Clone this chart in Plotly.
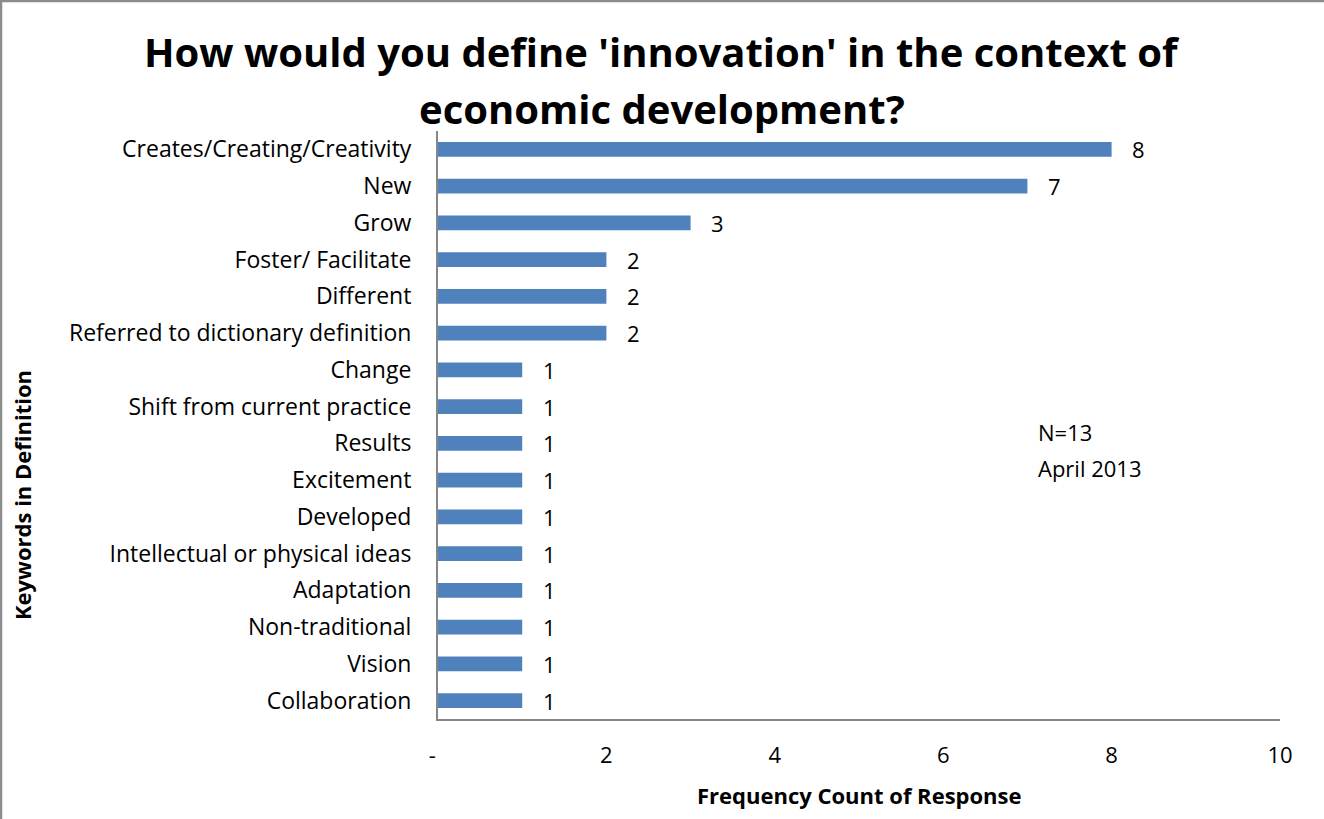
import plotly.graph_objects as go

# Keyword frequencies from survey responses (top to bottom)
keywords = [
    "Creates/Creating/Creativity",
    "New",
    "Grow",
    "Foster/ Facilitate",
    "Different",
    "Referred to dictionary definition",
    "Change",
    "Shift from current practice",
    "Results",
    "Excitement",
    "Developed",
    "Intellectual or physical ideas",
    "Adaptation",
    "Non-traditional",
    "Vision",
    "Collaboration",
]
counts = [8, 7, 3, 2, 2, 2, 1, 1, 1, 1, 1, 1, 1, 1, 1, 1]

x_tick_vals = [0, 2, 4, 6, 8, 10]
x_tick_text = ["-&nbsp;&nbsp;", "2", "4", "6", "8", "10"]

title_lines = ["How would you define 'innovation' in the context of",
               "economic development?"]
note_lines = ["N=13", "April 2013"]

W, H = 1324, 819
L, R, T, B = 438, 44, 131, 100
FONT = "Open Sans"
BAR = "#4F81BD"
AXIS = "#868686"
LABEL_SIZE = 23

fig = go.Figure()
fig.add_trace(go.Bar(
    x=counts,
    y=keywords,
    orientation="h",
    marker=dict(color=BAR, line=dict(width=0)),
    width=0.4,
    hoverinfo="x+y",
))

# value labels to the right of each bar
for k, v in zip(keywords, counts):
    fig.add_annotation(
        x=v, y=k, xref="x", yref="y",
        text=str(v), showarrow=False,
        xanchor="center", xshift=27,
        font=dict(family=FONT, size=LABEL_SIZE - 1, color="black"),
    )

pw, ph = W - L - R, H - T - B


def px_x(p):
    return (p - L) / pw


def px_y(p):
    return (H - B - p) / ph


# chart frame (left and top edges)
fig.add_shape(type="line", xref="paper", yref="paper",
              x0=px_x(1), x1=px_x(1), y0=px_y(0), y1=px_y(H),
              line=dict(color="#8C8C8C", width=2.5))
fig.add_shape(type="line", xref="paper", yref="paper",
              x0=px_x(0), x1=px_x(W), y0=px_y(1), y1=px_y(1),
              line=dict(color="#8C8C8C", width=2.5))

# title, two lines
for line, yc in zip(title_lines, [52, 108]):
    fig.add_annotation(
        x=px_x(W / 2), y=px_y(yc), xref="paper", yref="paper",
        text=f"<b>{line}</b>", showarrow=False,
        xanchor="center", yanchor="middle",
        font=dict(family=FONT, size=40, color="black"),
    )

# sample note
for line, yc in zip(note_lines, [432, 468]):
    fig.add_annotation(
        x=px_x(1036), y=px_y(yc), xref="paper", yref="paper",
        text=line, showarrow=False, align="left",
        xanchor="left", yanchor="middle",
        font=dict(family=FONT, size=LABEL_SIZE - 1, color="black"),
    )

# vertical axis title
fig.add_annotation(
    x=px_x(22), y=px_y(495), xref="paper", yref="paper",
    text="<b>Keywords in Definition</b>", showarrow=False, textangle=-90,
    xanchor="center", yanchor="middle",
    font=dict(family=FONT, size=22, color="black"),
)

# horizontal axis title
fig.add_annotation(
    x=0.5, y=px_y(795), xref="paper", yref="paper",
    text="<b>Frequency Count of Response</b>", showarrow=False,
    xanchor="center", yanchor="middle",
    font=dict(family=FONT, size=22, color="black"),
)

fig.update_layout(
    width=W, height=H,
    margin=dict(l=L, r=R, t=T, b=B, pad=0),
    paper_bgcolor="white", plot_bgcolor="white",
    showlegend=False,
    bargap=0.6,
    xaxis=dict(
        range=[0, 10], tickvals=x_tick_vals, ticktext=x_tick_text,
        showgrid=False, zeroline=False,
        showline=True, linecolor=AXIS, linewidth=2,
        ticks="", ticklabelstandoff=16,
        tickfont=dict(family=FONT, size=LABEL_SIZE - 1, color="black"),
        fixedrange=True,
    ),
    yaxis=dict(
        autorange="reversed", showgrid=False, zeroline=False,
        showline=True, linecolor=AXIS, linewidth=2,
        ticks="", ticklabelstandoff=20,
        tickfont=dict(family=FONT, size=LABEL_SIZE, color="black"),
        fixedrange=True,
    ),
)

fig.write_html("out.html")
